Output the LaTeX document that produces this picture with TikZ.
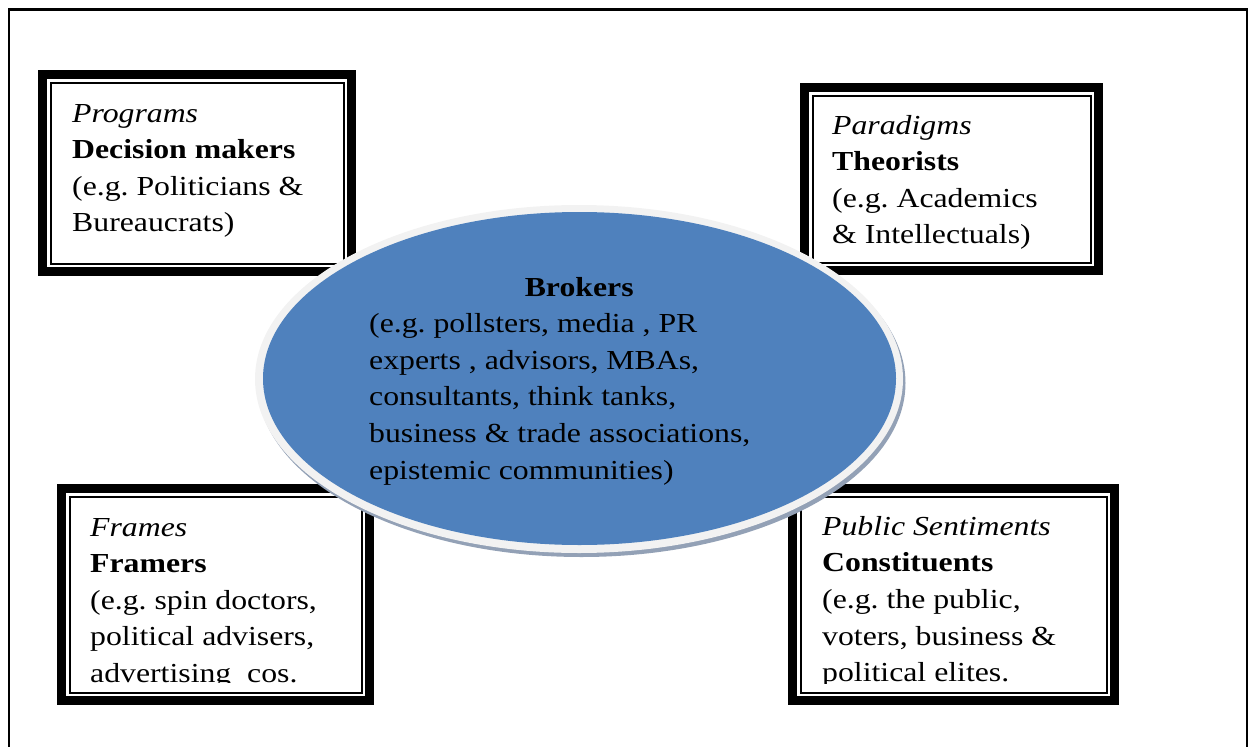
\documentclass[tikz,border=0pt]{standalone}
\usepackage{fontspec}
\setmainfont{Liberation Serif}[FakeStretch=1.155]
\definecolor{ellblue}{HTML}{4F81BD}
\definecolor{rimgray}{HTML}{F2F2F2}
\definecolor{shadegray}{HTML}{93A1B6}
\tikzset{
  frameout/.style={draw=black, line width=9pt, fill=white, rectangle, inner sep=0pt, outer sep=0pt},
  framein/.style={draw=black, line width=2pt},
  boxtext/.style={anchor=base west, inner sep=0pt, align=left,
    font=\fontsize{27.5pt}{36.6pt}\selectfont\frenchspacing},
  pageframe/.style={draw=black, line width=2.2pt},
}
\begin{document}
\begin{tikzpicture}[x=1pt,y=-1pt]
\useasboundingbox (0,0) rectangle (1254,747);
% outer page frame
\draw[pageframe] (8.7,760) -- (8.7,9.5) -- (1246.8,9.5) -- (1246.8,760);

% boxes
\node[frameout, minimum width=309pt, minimum height=197pt] (b1) at (197,173) {};
\draw[framein] ([shift={(8pt,-8pt)}]b1.north west) rectangle ([shift={(-8pt,8pt)}]b1.south east);
\node[frameout, minimum width=294pt, minimum height=183pt] (b2) at (951.5,179) {};
\draw[framein] ([shift={(8pt,-8pt)}]b2.north west) rectangle ([shift={(-8pt,8pt)}]b2.south east);
\node[frameout, minimum width=308pt, minimum height=212pt] (b3) at (215.5,594.5) {};
\draw[framein] ([shift={(8pt,-8pt)}]b3.north west) rectangle ([shift={(-8pt,8pt)}]b3.south east);
\node[frameout, minimum width=322pt, minimum height=212pt] (b4) at (953.5,594.5) {};
\draw[framein] ([shift={(8pt,-8pt)}]b4.north west) rectangle ([shift={(-8pt,8pt)}]b4.south east);

% box texts (anchored at the baseline of their last line)
\node[boxtext] (t1) at (72,231.8) {\textit{Programs}\\\textbf{Decision makers}\\(e.g. Politicians \&\\Bureaucrats)};
\node[boxtext] (t2) at (832,243.8) {\textit{Paradigms}\\\textbf{Theorists}\\(e.g. Academics\\\& Intellectuals)};
\begin{scope}
  \clip (60,490) rectangle (370,682);
  \node[boxtext] (t3) at (90,682.4) {\textit{Frames}\\\textbf{Framers}\\(e.g. spin doctors,\\political advisers,\\advertising\ \ cos.};
\end{scope}
\begin{scope}
  \clip (790,490) rectangle (1115,683);
  \node[boxtext] (t4) at (822,681.6) {\textit{Public Sentiments}\\\textbf{Constituents}\\(e.g. the public,\\voters, business \&\\political elites.};
\end{scope}

% central ellipse
\fill[shadegray] (581.5,383) ellipse [x radius=324, y radius=174];
\fill[rimgray] (579,379) ellipse [x radius=324, y radius=174];
\fill[ellblue] (579.5,378.5) ellipse [x radius=316.5, y radius=166.5];
\node[boxtext] (t5) at (369,479) {\makebox[420pt][c]{\textbf{Brokers}}\\(e.g. pollsters, media , PR\\experts , advisors, MBAs,\\consultants, think tanks,\\business \& trade associations,\\epistemic communities)};
\end{tikzpicture}
\end{document}
